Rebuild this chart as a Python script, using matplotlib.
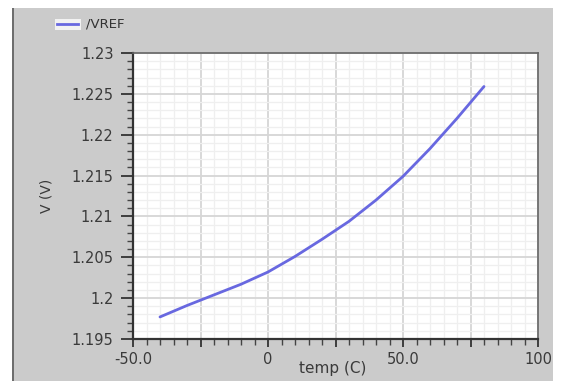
import numpy as np
import matplotlib
matplotlib.use("Agg")
import matplotlib.pyplot as plt
from matplotlib.patches import Rectangle
from matplotlib.ticker import MultipleLocator, FixedFormatter, FixedLocator

# VREF vs temperature sweep
temp = [-40, -30, -20, -10, 0, 10, 20, 30, 40, 50, 60, 70, 80]
vref = [1.1977, 1.1991, 1.2004, 1.2017, 1.2032, 1.2051, 1.2072,
        1.2094, 1.2120, 1.2149, 1.2183, 1.2220, 1.2259]

x_ticks = [-50, -25, 0, 25, 50, 75, 100]
x_labels = ["-50.0", "", "0", "", "50.0", "", "100"]
y_ticks = [1.195, 1.2, 1.205, 1.21, 1.215, 1.22, 1.225, 1.23]
y_labels = ["1.195", "1.2", "1.205", "1.21", "1.215", "1.22", "1.225", "1.23"]

W, H = 563, 381
fig = plt.figure(figsize=(W / 100, H / 100), dpi=100, facecolor="white")

# gray panel behind the plot
fig.patches.append(Rectangle((14 / W, 0), (553 - 14) / W, (H - 8) / H,
                             transform=fig.transFigure, facecolor="#cbcbcb",
                             edgecolor="none", zorder=0))
fig.patches.append(Rectangle((12 / W, 0), 2.5 / W, (H - 8) / H,
                             transform=fig.transFigure, facecolor="#6e6e6e",
                             edgecolor="none", zorder=1))

ax = fig.add_axes([133 / W, 1 - 339 / H, (538 - 133) / W, (339 - 53) / H])
ax.set_zorder(5)
ax.set_facecolor("white")
ax.plot(temp, vref, color="#6868e0", lw=2.0, solid_capstyle="round")

ax.set_xlim(-50, 100)
ax.set_ylim(1.195, 1.23)
ax.xaxis.set_major_locator(FixedLocator(x_ticks))
ax.xaxis.set_major_formatter(FixedFormatter(x_labels))
ax.xaxis.set_minor_locator(MultipleLocator(5))
ax.yaxis.set_major_locator(FixedLocator(y_ticks))
ax.yaxis.set_major_formatter(FixedFormatter(y_labels))
ax.yaxis.set_minor_locator(MultipleLocator(0.001))

ax.grid(which="major", color="#d6d6d6", lw=1.3)
ax.grid(which="minor", color="#efefef", lw=0.9)
ax.set_axisbelow(True)

ax.tick_params(which="major", direction="out", width=1.3, color="#333333",
               labelsize=10.5, labelcolor="#3a3a3a")
ax.tick_params(axis="x", which="major", length=6, pad=3)
ax.tick_params(axis="y", which="major", length=9, pad=5)
ax.tick_params(which="minor", direction="out", length=4, width=1,
               color="#444444")
for side in ("top", "right"):
    ax.spines[side].set_color("#666666")
    ax.spines[side].set_linewidth(1.2)
for side in ("left", "bottom"):
    ax.spines[side].set_color("#333333")
    ax.spines[side].set_linewidth(1.6)

ax.set_xlabel("temp (C)", fontsize=11, color="#3a3a3a", va="center")
ax.xaxis.set_label_coords((333 - 133) / 405, (339 - 369) / 286)
ax.set_ylabel("V (V)", fontsize=10, color="#3a3a3a", va="center")
ax.yaxis.set_label_coords((46 - 133) / 405, 0.5)

# legend entry at the top left
fig.patches.append(Rectangle((55 / W, 1 - 30 / H), 26 / W, 11 / H,
                             transform=fig.transFigure, facecolor="#f2f2f2",
                             edgecolor="none", zorder=2))
fig.lines.append(plt.Line2D([57 / W, 78 / W], [1 - 24 / H, 1 - 24 / H],
                            transform=fig.transFigure, color="#6868e0", lw=2.0,
                            zorder=3))
fig.text(86 / W, 1 - 24 / H, "/VREF", fontsize=9.5, color="#333333",
         va="center", ha="left", zorder=3)

fig.savefig("out.png", dpi=100, facecolor="white")
